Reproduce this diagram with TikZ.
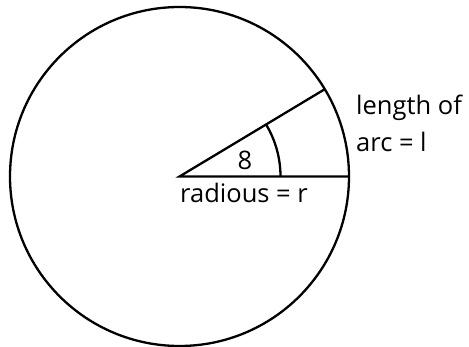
\documentclass[tikz,border=0pt]{standalone}
\usepackage{fontspec}
\setmainfont{Open Sans}
\usetikzlibrary{calc}
\begin{document}
\begin{tikzpicture}[x=1pt,y=-1pt,
  stroke/.style={line width=2.3pt,black},
  lbl/.style={inner sep=0pt,font=\fontsize{25.5}{31}\selectfont}]
\useasboundingbox (0,0) rectangle (469,347);
\coordinate (O) at (179.5,176.5);
\draw[stroke] (O) circle (169.5);
\coordinate (R) at ($(O)+(169.5,0)$);
\coordinate (A) at ($(O)+({169.5*cos(31)},{-169.5*sin(31)})$);
\draw[stroke,line join=miter] (R) -- (O) -- (A);
\draw[stroke] ($(O)+(101,0)$) arc[start angle=0,end angle=-31,radius=101];
\node[lbl,anchor=base] (theta) at (245,170) {8};
\node[lbl,anchor=base west] (rad) at (180,203) {radious = r};
\node[lbl,anchor=base west] (len) at (356,115) {length of};
\node[lbl,anchor=base west] (arc) at (356,152) {arc = l};
\end{tikzpicture}
\end{document}
